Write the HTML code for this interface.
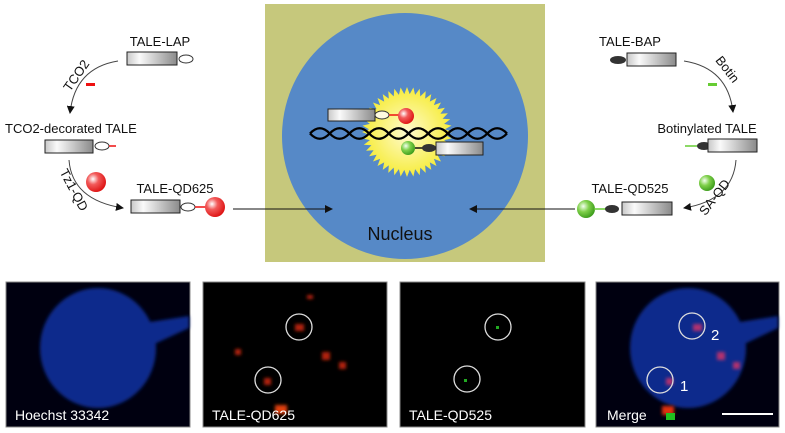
<!DOCTYPE html>
<html><head><meta charset="utf-8"><style>
html,body{margin:0;padding:0;background:#fff;width:785px;height:433px;overflow:hidden}
svg{display:block;font-family:"Liberation Sans",Arial,sans-serif}
</style></head><body>
<svg id="s" width="785" height="433" viewBox="0 0 785 433" xmlns="http://www.w3.org/2000/svg">
<defs>
<linearGradient id="bar" x1="0" x2="1" y1="0" y2="0"><stop offset="0" stop-color="#c8c8c8"/><stop offset="0.25" stop-color="#fafafa"/><stop offset="1" stop-color="#8a8a8a"/></linearGradient>
<radialGradient id="red" cx="0.35" cy="0.35" r="0.7"><stop offset="0" stop-color="#fff"/><stop offset="0.4" stop-color="#f25a5a"/><stop offset="1" stop-color="#d11"/></radialGradient>
<radialGradient id="grn" cx="0.35" cy="0.35" r="0.7"><stop offset="0" stop-color="#f4fff0"/><stop offset="0.45" stop-color="#7fd04a"/><stop offset="1" stop-color="#3a9a1a"/></radialGradient>
<radialGradient id="sun" cx="0.5" cy="0.5" r="0.5"><stop offset="0" stop-color="#fffbd0"/><stop offset="1" stop-color="#f6ec3a"/></radialGradient>
<marker id="ah" markerWidth="8" markerHeight="8" refX="7" refY="4" orient="auto" markerUnits="userSpaceOnUse"><path d="M0,0 L8,4 L0,8 z" fill="#111"/></marker>
<filter id="bl"><feGaussianBlur stdDeviation="1.5"/></filter>
</defs>
<rect x="265" y="4" width="280" height="258" fill="#c6c87c"/>
<circle cx="405" cy="136" r="123" fill="#5689c7"/>
<polygon id="sunp" fill="url(#sun)"/>
<g id="dna" fill="none" stroke="#000" stroke-width="2.3"></g>
<rect x="328" y="109" width="47" height="12" fill="url(#bar)" stroke="#222"/>
<ellipse cx="382" cy="115" rx="7" ry="4" fill="#fffbe0" stroke="#333"/>
<line x1="389" y1="115" x2="399" y2="115" stroke="#e11" stroke-width="1.5"/>
<circle cx="406" cy="116" r="8" fill="url(#red)"/>
<circle cx="408" cy="148" r="7" fill="url(#grn)"/>
<line x1="415" y1="148" x2="424" y2="148" stroke="#111" stroke-width="1.5"/>
<ellipse cx="429" cy="148" rx="7" ry="4" fill="#333"/>
<rect x="436" y="142" width="47" height="13" fill="url(#bar)" stroke="#222"/>
<text x="400" y="240" font-size="18" text-anchor="middle" fill="#111">Nucleus</text>
<line x1="233" y1="209" x2="332" y2="209" stroke="#111" marker-end="url(#ah)"/>
<line x1="575" y1="209" x2="470" y2="209" stroke="#111" marker-end="url(#ah)"/>
<g font-size="13" fill="#111">
<text x="160" y="46" text-anchor="middle">TALE-LAP</text>
<rect x="127" y="52" width="50" height="13" fill="url(#bar)" stroke="#222"/>
<ellipse cx="186" cy="59" rx="7" ry="4" fill="#fff" stroke="#333"/>
<path d="M118,61 Q75,68 70,113" fill="none" stroke="#444" marker-end="url(#ah)"/>
<text transform="translate(80,78) rotate(-55)" text-anchor="middle">TCO2</text>
<rect x="86" y="83" width="9" height="3" fill="#e11"/>
<text x="5" y="133">TCO2-decorated TALE</text>
<rect x="45" y="140" width="48" height="13" fill="url(#bar)" stroke="#222"/>
<ellipse cx="102" cy="146" rx="7" ry="4" fill="#fff" stroke="#333"/>
<line x1="109" y1="146" x2="116" y2="146" stroke="#e11" stroke-width="1.5"/>
<path d="M69,160 Q72,200 123,208" fill="none" stroke="#444" marker-end="url(#ah)"/>
<text transform="translate(70,192) rotate(62)" text-anchor="middle">Tz1-QD</text>
<circle cx="96" cy="182" r="10" fill="url(#red)"/>
<text x="175" y="193" text-anchor="middle">TALE-QD625</text>
<rect x="131" y="200" width="49" height="13" fill="url(#bar)" stroke="#222"/>
<ellipse cx="188" cy="207" rx="7" ry="4" fill="#fff" stroke="#333"/>
<line x1="195" y1="207" x2="206" y2="207" stroke="#e11" stroke-width="1.5"/>
<circle cx="215" cy="207" r="10" fill="url(#red)"/>
<text x="630" y="46" text-anchor="middle">TALE-BAP</text>
<ellipse cx="618" cy="60" rx="8" ry="4" fill="#333"/>
<rect x="627" y="53" width="49" height="13" fill="url(#bar)" stroke="#222"/>
<path d="M684,61 Q728,68 733,112" fill="none" stroke="#444" marker-end="url(#ah)"/>
<text transform="translate(724,72) rotate(52)" text-anchor="middle">Botin</text>
<rect x="708" y="83" width="9" height="3" fill="#6c3"/>
<text x="707" y="133" text-anchor="middle">Botinylated TALE</text>
<line x1="685" y1="146" x2="697" y2="146" stroke="#6c3" stroke-width="1.5"/>
<ellipse cx="704" cy="146" rx="7" ry="4" fill="#333"/>
<rect x="708" y="139" width="49" height="13" fill="url(#bar)" stroke="#222"/>
<path d="M736,160 Q733,200 684,208" fill="none" stroke="#444" marker-end="url(#ah)"/>
<circle cx="707" cy="183" r="8" fill="url(#grn)"/>
<text transform="translate(718,200) rotate(-52)" text-anchor="middle">SA-QD</text>
<text x="630" y="193" text-anchor="middle">TALE-QD525</text>
<circle cx="586" cy="209" r="9" fill="url(#grn)"/>
<line x1="594" y1="209" x2="606" y2="209" stroke="#6c3" stroke-width="1.5"/>
<ellipse cx="612" cy="209" rx="7" ry="4" fill="#333"/>
<rect x="622" y="202" width="50" height="13" fill="url(#bar)" stroke="#222"/>
</g>
<g stroke="#888" stroke-width="1">
<rect x="6" y="282" width="184" height="145" fill="#000010"/>
<rect x="203" y="282" width="184" height="145" fill="#000"/>
<rect x="400" y="282" width="185" height="145" fill="#000"/>
<rect x="596" y="282" width="183" height="145" fill="#000010"/>
</g>
<g fill="#112a8c" filter="url(#bl)">
<ellipse cx="98" cy="348" rx="58" ry="60"/>
<path d="M150,322 L189,316 L189,328 L150,346 z"/>
<ellipse cx="688" cy="348" rx="58" ry="60"/>
<path d="M740,322 L778,316 L778,328 L740,346 z"/>
</g>
<g fill="#b02010" filter="url(#bl)">
<rect x="295" y="324" width="9" height="7"/><rect x="264" y="378" width="7" height="7"/>
<rect x="322" y="352" width="8" height="8"/><rect x="339" y="362" width="7" height="7"/>
<rect x="235" y="349" width="6" height="6"/><rect x="307" y="295" width="6" height="4"/>
<rect x="275" y="405" width="12" height="9" fill="#e04010"/>
<rect x="693" y="324" width="9" height="7" fill="#b03070"/><rect x="666" y="378" width="7" height="7" fill="#b03070"/>
<rect x="717" y="352" width="8" height="8" fill="#b03070"/><rect x="733" y="362" width="7" height="7" fill="#b03070"/>
<rect x="662" y="406" width="12" height="9" fill="#e03010"/>
</g>
<rect x="666" y="413" width="9" height="7" fill="#20c020"/>
<rect x="496" y="326" width="3" height="3" fill="#2a2"/><rect x="464" y="379" width="3" height="3" fill="#2a2"/>
<g fill="none" stroke="#ddd" stroke-width="1.3">
<circle cx="299" cy="327" r="13"/><circle cx="268" cy="380" r="13"/>
<circle cx="498" cy="327" r="13"/><circle cx="467" cy="379" r="13"/>
<circle cx="692" cy="326" r="13"/><circle cx="660" cy="380" r="13"/>
</g>
<g font-size="14" fill="#fff">
<text x="15" y="420">Hoechst 33342</text>
<text x="212" y="420">TALE-QD625</text>
<text x="409" y="420">TALE-QD525</text>
<text x="607" y="420">Merge</text>
<text x="711" y="340" font-size="15">2</text>
<text x="680" y="391" font-size="15">1</text>
</g>
<line x1="722" y1="414" x2="773" y2="414" stroke="#fff" stroke-width="2"/>
</svg>
<script>
var p=[],cx=407,cy=132,n=44;
for(var i=0;i<n*2;i++){var r=i%2?38:45,a=i*Math.PI/n;p.push((cx+r*Math.cos(a)).toFixed(1)+","+(cy+r*Math.sin(a)).toFixed(1));}
document.getElementById('sunp').setAttribute('points',p.join(' '));
var g=document.getElementById('dna'),h=19.7,x0=310,d1="M"+x0+",133.5",d2=d1;
for(var k=0;k<10;k++){var xa=x0+k*h,up=(k%2==0);d1+=" Q"+(xa+h/2)+","+(up?123:144)+" "+(xa+h)+",133.5";d2+=" Q"+(xa+h/2)+","+(up?144:123)+" "+(xa+h)+",133.5";}
[d1,d2].forEach(function(d){var e=document.createElementNS("http://www.w3.org/2000/svg","path");e.setAttribute("d",d);g.appendChild(e);});
</script>
</body></html>
